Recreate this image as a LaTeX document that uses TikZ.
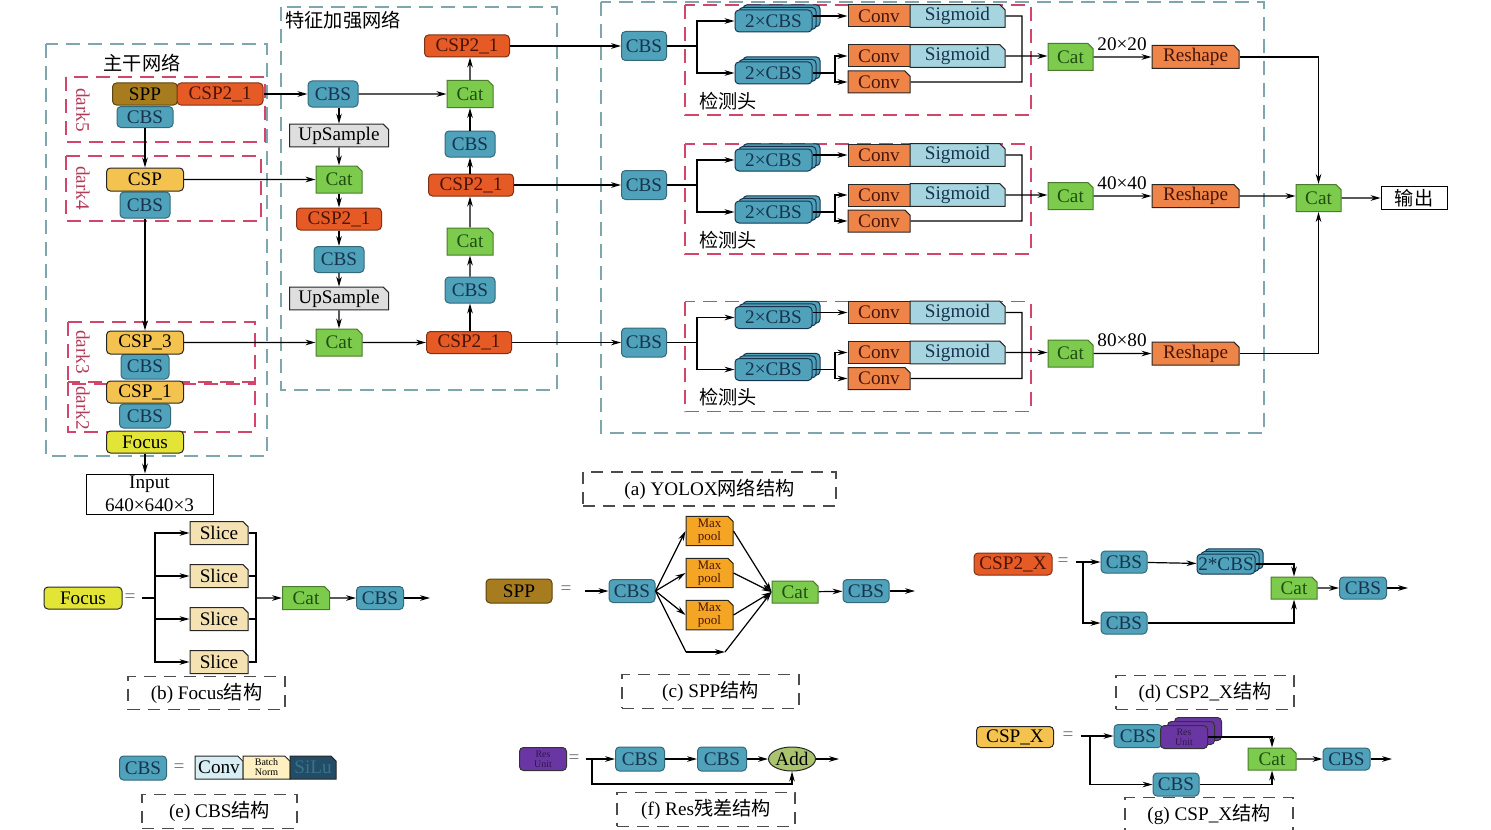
\documentclass[tikz,border=0pt]{standalone}
\usepackage{fontspec}
\setmainfont{Liberation Serif}
\newfontfamily\cjk{Noto Sans CJK SC}
\usetikzlibrary{arrows.meta,shapes.misc,shapes.geometric,shadows}
\definecolor{CbsBlue}{HTML}{4FA2BA}
\definecolor{CbsText}{HTML}{17344F}
\definecolor{CspRed}{HTML}{E65A26}
\definecolor{CspText}{HTML}{4A1508}
\definecolor{SppBrown}{HTML}{A67C1E}
\definecolor{CspYellow}{HTML}{F3C24F}
\definecolor{FocusYellow}{HTML}{E2E536}
\definecolor{CatGreen}{HTML}{7CCB4D}
\definecolor{CatText}{HTML}{1F4D13}
\definecolor{UpGrey}{HTML}{DEDEDE}
\definecolor{ConvOrange}{HTML}{EE8447}
\definecolor{SigBlue}{HTML}{A6D5DF}
\definecolor{SliceBeige}{HTML}{F5E2B3}
\definecolor{PoolOrange}{HTML}{F5A524}
\definecolor{ResPurple}{HTML}{6A36A3}
\definecolor{AddGreen}{HTML}{A9C36F}
\definecolor{BnYellow}{HTML}{FFF0C2}
\definecolor{ConvLight}{HTML}{D6EEF4}
\definecolor{SiluDark}{HTML}{234C66}
\definecolor{RedDash}{HTML}{D3456A}
\definecolor{TealDash}{HTML}{7FA6AE}
\tikzset{>={Stealth[length=5pt,width=2.8pt]},every node/.style={font=\fontsize{9.6}{11.5}\selectfont},
 link/.style={line width=0.6pt},
 blk/.style={draw,rounded corners=2pt,inner sep=0pt,line width=0.5pt},
 cbs/.style={blk,fill=CbsBlue,draw=CbsBlue!65!black,text=CbsText},
 csptwo/.style={blk,fill=CspRed,draw=CspRed!55!black,text=CspText},
 sppbox/.style={blk,fill=SppBrown,draw=SppBrown!55!black},
 cspbox/.style={blk,fill=CspYellow,draw=black!85},
 focusbox/.style={blk,fill=FocusYellow,draw=black!85},
 cham/.style={chamfered rectangle,chamfered rectangle corners=north east,chamfered rectangle xsep=1.3pt,
  chamfered rectangle ysep=1.3pt,inner sep=0pt,draw=black!85,line width=0.5pt},
 cat/.style={cham,fill=CatGreen,draw=CatGreen!60!black,text=CatText},
 upbox/.style={cham,fill=UpGrey},
 conv/.style={draw=black!85,line width=0.5pt,inner sep=0pt,fill=ConvOrange,text=CspText},
 convcut/.style={cham,fill=ConvOrange,text=CspText},
 sig/.style={cham,fill=SigBlue,text=CbsText},
 reshape/.style={cham,fill=ConvOrange,text=CspText},
 slice/.style={cham,fill=SliceBeige},
 pool/.style={cham,fill=PoolOrange,font=\fontsize{6.5}{6.5}\selectfont,align=center,text=CspText},
 resunit/.style={blk,fill=ResPurple,draw=black!80,font=\fontsize{5}{5}\selectfont,align=center,text=ResPurple!45!black},
 stackbox/.style={double copy shadow={shadow xshift=2pt,shadow yshift=1.3pt}},
 eq/.style={text=black!55},
 darklabel/.style={rotate=-90,text=RedDash!85!black},
 reddash/.style={draw=RedDash,line width=0.7pt,dash pattern=on 7pt off 4pt},
 tealdash/.style={draw=TealDash,line width=0.7pt,dash pattern=on 7pt off 4pt},
 capbox/.style={draw=black!70,line width=0.7pt,dash pattern=on 6pt off 4pt}}
\begin{document}
\begin{tikzpicture}[x=0.5pt,y=-0.5pt]
\useasboundingbox (0,0) rectangle (1491,829);
% backbone
\draw[tealdash] (46,44) rectangle (267,456);
\node (tBack) at (142,63) {\cjk 主干网络};
\draw[reddash] (66,77) rectangle (265,142);
\draw[reddash] (66,156) rectangle (261,221);
\draw[reddash] (68,322) rectangle (255,384);
\draw[reddash] (68,382) rectangle (255,432);
\node[darklabel] (lDa) at (83,110) {dark5};
\node[darklabel] (lDb) at (83,188) {dark4};
\node[darklabel] (lDc) at (83,352) {dark3};
\node[darklabel] (lDd) at (83,408) {dark2};
\node[cbs,minimum width=28pt,minimum height=10.5pt] (bCBSa) at (145,117) {CBS};
\node[sppbox,minimum width=32.5pt,minimum height=11pt] (bSPP) at (145,94) {SPP};
\node[csptwo,minimum width=43pt,minimum height=11pt] (bCSPa) at (220,94) {CSP2\_1};
\node[cbs,minimum width=25pt,minimum height=13pt] (bCBSb) at (145,205) {CBS};
\node[cspbox,minimum width=38.5pt,minimum height=11.5pt] (bCSPb) at (145,179.5) {CSP};
\node[cbs,minimum width=24pt,minimum height=12.5pt] (bCBSc) at (145,366.5) {CBS};
\node[cspbox,minimum width=38.5pt,minimum height=11.5pt] (bCSPc) at (145,342.5) {CSP\_3};
\node[cbs,minimum width=25.5pt,minimum height=12pt] (bCBSd) at (145,416) {CBS};
\node[cspbox,minimum width=38.5pt,minimum height=11pt] (bCSPd) at (145,392) {CSP\_1};
\node[focusbox,minimum width=38.5pt,minimum height=11pt] (bFocus) at (145,442) {Focus};
\node[draw,minimum width=63.5pt,minimum height=20pt,inner sep=0pt,align=center] (bInput) at (149.5,494) {Input\\640×640×3};
\draw[link,->] (bCBSa) -- (bCSPb);
\draw[link,->] (bCBSb) -- (bCSPc);
\draw[link,->] (bFocus) -- (bFocus |- bInput.north);
% neck
\draw[tealdash] (281,7) rectangle (557,390);
\node (tNeck) at (343,20) {\cjk 特征加强网络};
\node[cbs,minimum width=25pt,minimum height=13pt] (nCBSa) at (333,94) {CBS};
\node[upbox,minimum width=49.5pt,minimum height=11pt] (nUpa) at (339,135.5) {UpSample};
\node[cat,minimum width=23pt,minimum height=13.5pt] (nCata) at (339,179.5) {Cat};
\node[csptwo,minimum width=42.5pt,minimum height=11pt] (nCSPa) at (339,219) {CSP2\_1};
\node[cbs,minimum width=25pt,minimum height=13pt] (nCBSb) at (339,259.5) {CBS};
\node[upbox,minimum width=49.5pt,minimum height=11pt] (nUpb) at (339,298.5) {UpSample};
\node[cat,minimum width=23pt,minimum height=13.5pt] (nCatb) at (339,342.5) {Cat};
\node[csptwo,minimum width=42.5pt,minimum height=11pt] (nCSPb) at (469,342.5) {CSP2\_1};
\node[cbs,minimum width=25pt,minimum height=13pt] (nCBSc) at (470,290) {CBS};
\node[cat,minimum width=23pt,minimum height=13.5pt] (nCatc) at (470,241.5) {Cat};
\node[csptwo,minimum width=42.5pt,minimum height=11pt] (nCSPc) at (471,185) {CSP2\_1};
\node[cbs,minimum width=25pt,minimum height=13pt] (nCBSd) at (470,144) {CBS};
\node[cat,minimum width=23pt,minimum height=13.5pt] (nCatd) at (470,94) {Cat};
\node[csptwo,minimum width=42.5pt,minimum height=11pt] (nCSPd) at (467,46) {CSP2\_1};
\draw[link,->] (bCSPa) -- (nCBSa);
\draw[link,->] (bCSPb) -- (nCata);
\draw[link,->] (bCSPc) -- (nCatb);
\draw[link,->] (nCBSa.south -| nUpa) -- (nUpa);
\draw[link,->] (nUpa) -- (nCata);
\draw[link,->] (nCata) -- (nCSPa);
\draw[link,->] (nCSPa) -- (nCBSb);
\draw[link,->] (nCBSb) -- (nUpb);
\draw[link,->] (nUpb) -- (nCatb);
\draw[link,->] (nCatb) -- (nCSPb);
\draw[link,->] (nCSPb.north -| nCBSc) -- (nCBSc);
\draw[link,->] (nCBSc) -- (nCatc);
\draw[link,->] (nCatc) -- (nCatc |- nCSPc.south);
\draw[link,->] (nCSPc.north -| nCBSd) -- (nCBSd);
\draw[link,->] (nCBSd) -- (nCatd);
\draw[link,->] (nCBSa) -- (nCatd);
\draw[link,->] (nCatd) -- (nCatd |- nCSPd.south);
% heads
\draw[tealdash] (601,2) rectangle (1264,433);
\foreach \y/\i/\s in {46/1/20,185/2/40,342.5/3/80}{
 \draw[reddash] (685,\y-41) rectangle (1031,\y+69);
 \node[cbs,minimum width=22.5pt,minimum height=14.5pt] (hc\i) at (644,\y) {CBS};
 \node[cbs,stackbox,draw=CbsText,minimum width=38.5pt,minimum height=11pt] (hu\i) at (773.5,\y-25) {2×CBS};
 \node[cbs,stackbox,draw=CbsText,minimum width=38.5pt,minimum height=11pt] (hl\i) at (773.5,\y+27) {2×CBS};
 \node[conv,minimum width=31pt,minimum height=11pt] (ha\i) at (879,\y-30) {Conv};
 \node[sig,minimum width=47.5pt,minimum height=11pt] (hs\i) at (957.5,\y-30) {Sigmoid};
 \node[conv,minimum width=31pt,minimum height=11pt] (hb\i) at (879,\y+10) {Conv};
 \node[sig,minimum width=47.5pt,minimum height=11pt] (ht\i) at (957.5,\y+10) {Sigmoid};
 \node[convcut,minimum width=31pt,minimum height=11pt] (hd\i) at (879,\y+36) {Conv};
 \node (hn\i) at (728,\y+55) {\cjk 检测头};
 \coordinate (hf\i) at (697,\y);
 \coordinate (hg\i) at (835,\y+27);
 \coordinate (hj\i) at (1022,\y);
 \node[cat,minimum width=22.5pt,minimum height=13.5pt] (hk\i) at (1070.5,\y+11) {Cat};
 \node[reshape,minimum width=43.5pt,minimum height=11.5pt] (hr\i) at (1195.5,\y+11) {Reshape};
 \node (hz\i) at (1122,\y-2) {\s×\s};
 \draw[link] (hc\i) -- (hf\i);
 \draw[link,->] (hf\i) |- (hu\i);
 \draw[link,->] (hf\i) |- (hl\i);
 \draw[link,->] (hu\i.east |- ha\i) -- (ha\i);
 \draw[link] (hl\i) -- (hg\i);
 \draw[link,->] (hg\i) |- (hb\i);
 \draw[link,->] (hg\i) |- (hd\i);
 \draw[link] (hs\i) -- (hs\i -| hj\i) -- (hd\i -| hj\i) -- (hd\i);
 \draw[link,->] (ht\i) -- (ht\i -| hk\i.west);
 \draw[link,->] (hk\i) -- (hr\i);
}
\draw[link,->] (nCSPd) -- (hc1);
\draw[link,->] (nCSPc) -- (hc2);
\draw[link,->] (nCSPb) -- (hc3);
\node[cat,minimum width=22.5pt,minimum height=13.5pt] (fCat) at (1318.5,198) {Cat};
\node[draw,minimum width=33pt,minimum height=11.5pt,inner sep=0pt] (fOutbox) at (1414,198) {\cjk 输出};
\draw[link,->] (hr1) -| (fCat);
\draw[link,->] (hr2) -- (hr2 -| fCat.west);
\draw[link,->] (hr3) -| (fCat);
\draw[link,->] (fCat) -- (fOutbox);
\node[capbox,minimum width=126.5pt,minimum height=14pt] (capA) at (709.5,489) {(a) YOLOX{\cjk 网络结构}};
% focus
\node[focusbox,minimum width=39pt,minimum height=11pt] (sFocus) at (83,598) {Focus};
\node[eq] (sEq) at (130,598) {=};
\coordinate (sFk) at (155,598);
\coordinate (sJn) at (256,598);
\foreach \y/\i in {533/1,576/2,619/3,662/4}{
 \node[slice,minimum width=29pt,minimum height=11.5pt] (sSl\i) at (219,\y) {Slice};
 \draw[link,->] (sFk) |- (sSl\i);
 \draw[link] (sSl\i) -| (sJn);
}
\node[cat,minimum width=23.5pt,minimum height=11.5pt] (sCat) at (306,598) {Cat};
\node[cbs,minimum width=23.5pt,minimum height=11.5pt] (sCBS) at (380,598) {CBS};
\coordinate (sOut) at (430,598);
\draw[link] (sEq) -- (sFk);
\draw[link,->] (sJn) -- (sCat);
\draw[link,->] (sCat) -- (sCBS);
\draw[link,->] (sCBS) -- (sOut);
\node[capbox,minimum width=78.5pt,minimum height=12pt] (capB) at (206.5,693) {(b) Focus{\cjk 结构}};
% spp
\node[sppbox,minimum width=33pt,minimum height=12pt] (pSPP) at (519,591) {SPP};
\node[eq] (pEq) at (566,590) {=};
\coordinate (pIn) at (585,591);
\node[cbs,minimum width=23pt,minimum height=11.5pt] (pCBS) at (632,591) {CBS};
\node[cat,minimum width=23pt,minimum height=11pt] (pCat) at (795,592) {Cat};
\foreach \y/\i in {531/1,573/2,615/3}{
 \node[pool,minimum width=23.5pt,minimum height=13pt] (pMp\i) at (709.5,\y) {Max\\pool};
 \draw[link,->] (pCBS.east) -- (pMp\i.west);
 \draw[link,->] (pMp\i.east) -- (pCat.west);
}
\coordinate (pLa) at (686,652);
\coordinate (pLb) at (725,652);
\draw[link] (pCBS.east) -- (pLa);
\draw[link,->] (pLa) -- (pLb);
\draw[link,->] (pLb) -- (pCat.west);
\node[cbs,minimum width=23pt,minimum height=11.5pt] (pCBSb) at (866,591) {CBS};
\coordinate (pOut) at (915,591);
\draw[link,->] (pIn) -- (pCBS);
\draw[link,->] (pCat) -- (pCBSb);
\draw[link,->] (pCBSb) -- (pOut);
\node[capbox,minimum width=88.5pt,minimum height=11.5pt] (capC) at (710.5,691.5) {(c) SPP{\cjk 结构}};
% csp2_x
\node[csptwo,minimum width=39pt,minimum height=11pt] (dCSP) at (1013,564) {CSP2\_X};
\node[eq] (dEq) at (1063,562) {=};
\coordinate (dFk) at (1083,562);
\node[cbs,minimum width=23pt,minimum height=11pt] (dCBSa) at (1124,562) {CBS};
\node[cbs,minimum width=23pt,minimum height=11pt] (dCBSb) at (1124,623) {CBS};
\node[cbs,stackbox,draw=CbsText,minimum width=29pt,minimum height=10pt] (dTwo) at (1226,564) {2*CBS};
\node[cat,minimum width=23pt,minimum height=11pt] (dCat) at (1294,588) {Cat};
\node[cbs,minimum width=23.5pt,minimum height=11pt] (dCBSc) at (1363,588) {CBS};
\coordinate (dOut) at (1408,588);
\draw[link,->] (dEq) -- (dCBSa);
\draw[link,->] (dFk) |- (dCBSb);
\draw[link,->] (dCBSa) -- (dTwo);
\draw[link,->] (dTwo) -| (dCat);
\draw[link,->] (dCBSb) -| (dCat);
\draw[link,->] (dCat) -- (dCBSc);
\draw[link,->] (dCBSc) -- (dOut);
\node[capbox,minimum width=89pt,minimum height=13.5pt] (capD) at (1205,692.5) {(d) CSP2\_X{\cjk 结构}};
% csp_x
\node[cspbox,minimum width=38.5pt,minimum height=10.5pt] (gCSP) at (1015,737) {CSP\_X};
\node[eq] (gEq) at (1068,736) {=};
\coordinate (gFk) at (1090,736);
\node[cbs,minimum width=24pt,minimum height=11.5pt] (gCBSa) at (1138,736) {CBS};
\node[resunit,double copy shadow={shadow xshift=3.5pt,shadow yshift=2pt},minimum width=23.5pt,minimum height=11.5pt] (gRes) at (1184,737) {Res\\Unit};
\node[cat,minimum width=24pt,minimum height=11pt] (gCat) at (1272,759) {Cat};
\node[cbs,minimum width=23pt,minimum height=11.5pt] (gCBSb) at (1176,784.5) {CBS};
\node[cbs,minimum width=23.5pt,minimum height=11pt] (gCBSc) at (1346.5,759) {CBS};
\coordinate (gOut) at (1392,759);
\draw[link,->] (gEq) -- (gCBSa);
\draw[link,->] (gFk) |- (gCBSb);
\draw[link,->] (gRes) -| (gCat);
\draw[link,->] (gCBSb) -| (gCat);
\draw[link,->] (gCat) -- (gCBSc);
\draw[link,->] (gCBSc) -- (gOut);
\node[capbox,minimum width=84pt,minimum height=11.5pt] (capG) at (1209,814.5) {(g) CSP\_X{\cjk 结构}};
% cbs
\node[cbs,minimum width=23.5pt,minimum height=12pt] (eCBS) at (143,768) {CBS};
\node[eq] (eEq) at (179,768) {=};
\node[cham,fill=ConvLight,minimum width=24pt,minimum height=11.5pt] (eConv) at (219,767.5) {Conv};
\node[cham,fill=BnYellow,font=\fontsize{5}{5}\selectfont,align=center,minimum width=23.5pt,minimum height=11.5pt] (eBN) at (266.5,767.5) {Batch\\Norm};
\node[cham,fill=SiluDark,text=CbsBlue!45!SiluDark,minimum width=23pt,minimum height=11.5pt] (eSiLu) at (313,767.5) {SiLu};
\node[capbox,minimum width=77.5pt,minimum height=14.5pt] (capE) at (219.5,811.5) {(e) CBS{\cjk 结构}};
% res
\node[resunit,minimum width=23.5pt,minimum height=11.5pt] (fRes) at (543,759) {Res\\Unit};
\node[eq] (fEq) at (574,759) {=};
\coordinate (fFk) at (592,759);
\coordinate (fSk) at (792,784);
\node[cbs,minimum width=24.5pt,minimum height=12pt] (fCBSa) at (640,759) {CBS};
\node[cbs,minimum width=24.5pt,minimum height=12pt] (fCBSb) at (722,759) {CBS};
\node[ellipse,draw=black!85,fill=AddGreen,inner sep=0pt,line width=0.5pt,minimum width=23.5pt,minimum height=12pt] (fAdd) at (792,759) {Add};
\coordinate (fOut) at (839,759);
\draw[link,->] (fEq) -- (fCBSa);
\draw[link,->] (fCBSa) -- (fCBSb);
\draw[link,->] (fCBSb) -- (fAdd);
\draw[link,->] (fAdd) -- (fOut);
\draw[link,->] (fFk) |- (fSk) -- (fAdd);
\node[capbox,minimum width=89pt,minimum height=12.5pt] (capF) at (706,809.5) {(f) Res{\cjk 残差结构}};
\end{tikzpicture}
\end{document}
